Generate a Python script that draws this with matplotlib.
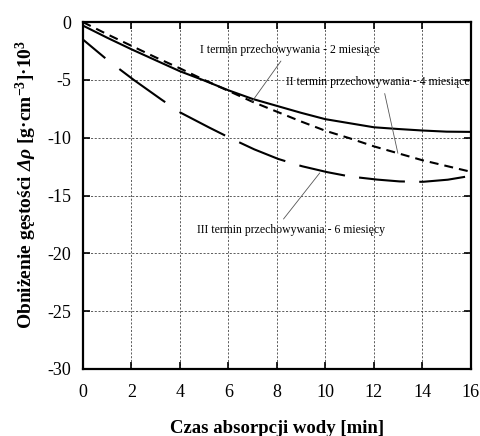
import matplotlib
matplotlib.use("Agg")
import matplotlib.pyplot as plt
import numpy as np

# water absorption time [min]
czas = [0, 1, 2, 3, 4, 5, 6, 7, 8, 9, 10, 11, 12, 13, 14, 15, 16]

# density drop for the three storage periods
termin_1 = [-0.3, -1.35, -2.35, -3.3, -4.25, -5.05, -5.9, -6.65, -7.25,
            -7.85, -8.4, -8.75, -9.1, -9.25, -9.38, -9.48, -9.5]
termin_2 = [0.0, -1.05, -2.05, -3.05, -4.0, -5.0, -5.95, -6.9, -7.75,
            -8.6, -9.4, -10.05, -10.75, -11.35, -11.95, -12.45, -12.95]
termin_3 = [-1.5, -3.25, -4.85, -6.35, -7.8, -8.9, -9.95, -10.95, -11.8,
            -12.45, -12.95, -13.35, -13.6, -13.78, -13.82, -13.65, -13.3]

opisy = ["I termin przechowywania - 2 miesiące",
         "II termin przechowywania - 4 miesiące",
         "III termin przechowywania - 6 miesięcy"]

plt.rcParams["font.family"] = ["Liberation Serif", "DejaVu Serif"]
plt.rcParams["axes.unicode_minus"] = False
plt.rcParams["mathtext.fontset"] = "custom"
plt.rcParams["mathtext.rm"] = "Liberation Serif:bold"
plt.rcParams["mathtext.it"] = "Liberation Serif:italic:bold"
plt.rcParams["mathtext.bf"] = "Liberation Serif:bold"
# sf slot holds bold italic so that capital Greek stays slanted too
plt.rcParams["mathtext.sf"] = "Liberation Serif:italic:bold"

fig = plt.figure(figsize=(4.81, 4.36), dpi=100)
ax = fig.add_axes([0.172, 0.1537, 0.807, 0.7958])

lw = 1.5
ax.plot(czas, termin_1, color="black", lw=lw, solid_capstyle="butt")
ax.plot(czas, termin_2, color="black", lw=lw, linestyle=(0, (4.3, 2.9)))

# long dashes laid out along x: 1.9 min drawn, 0.57 min gap
gx = np.linspace(0, 16, 1601)
gy = np.interp(gx, czas, termin_3)
faza = (gx - 1.51) % 2.47
ax.plot(gx, np.where(faza < 1.9, gy, np.nan), color="black", lw=lw,
        solid_capstyle="butt")

ax.set_xlim(0, 16)
ax.set_ylim(-30, 0)
ax.set_xticks(np.arange(0, 17, 2))
ax.set_yticks(np.arange(-30, 1, 5))
ax.grid(True, color="#444444", linestyle=(0, (2.5, 2)), linewidth=0.6)
ax.tick_params(direction="in", top=True, right=True, length=5, width=1.2,
               labelsize=13)
ax.tick_params(axis="x", pad=11)
ax.tick_params(axis="y", pad=8)
for s in ax.spines.values():
    s.set_linewidth(1.6)

# labels with thin leader lines
strzalka = dict(arrowstyle="-", color="#555555", lw=0.6, shrinkA=2, shrinkB=0)
ax.annotate(opisy[0], xy=(6.97, -6.9), xytext=(8.54, -2.42),
            ha="center", va="center", fontsize=8.5,
            arrowprops=dict(strzalka, relpos=(0.47, 0)))
ax.annotate(opisy[1], xy=(12.99, -11.35), xytext=(12.17, -5.19),
            ha="center", va="center", fontsize=8.5,
            arrowprops=dict(strzalka, relpos=(0.53, 0)))
ax.annotate(opisy[2], xy=(9.77, -13.05), xytext=(8.58, -17.98),
            ha="center", va="center", fontsize=8.5,
            arrowprops=dict(strzalka, relpos=(0.44, 1)))

ax.set_xlabel("Czas absorpcji wody [min]", fontsize=13.5, fontweight="bold")
ax.xaxis.set_label_coords(0.5, -0.148)
fig.text(26 / 481, 1 - 184 / 436,
         r"Obniżenie gęstości $\mathsf{\Delta\rho}$ [g·cm$^{-3}$]·10$^{3}$",
         rotation=90, ha="center", va="center", fontsize=14,
         fontweight="bold")

fig.savefig("out.png", dpi=100)
